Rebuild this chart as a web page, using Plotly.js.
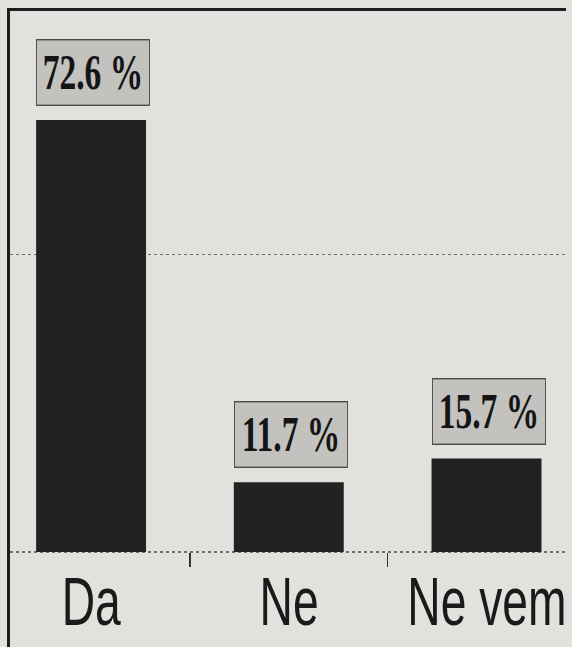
<!DOCTYPE html>
<html>
<head>
<meta charset="utf-8">
<script src="https://cdn.plot.ly/plotly-3.0.1.min.js"></script>
<style>
  html, body { margin: 0; padding: 0; background: #e3e1dd; overflow: hidden; }
  #chart { width: 572px; height: 647px; overflow: hidden; }
  /* the printed lettering (and its boxes) are strongly condensed */
  .annotation-text-g { transform-box: fill-box; transform-origin: 50% 50%; transform: scaleX(0.67); }
</style>
</head>
<body>
<div id="chart"></div>
<script>
// ---- data ----
const categories = ['Da', 'Ne', 'Ne vem'];
const shares = [72.6, 11.7, 15.7];
const valueLabels = ['72.6 %', '11.7 %', '15.7 %'];
const gridValues = [0, 50];

// ---- styles ----
const BG = '#e3e1dd';
const INK = '#222222';
const FRAME = '#1e1e1e';
const SQUEEZE = 0.67;
const X_RANGE = [-0.41, 2.402];

const bars = {
  type: 'bar', x: categories, y: shares,
  marker: { color: INK, line: { width: 0 } }, hoverinfo: 'skip'
};
// empty companion trace so the top frame axis exists
const frameTop = { type: 'scatter', x: [], y: [], xaxis: 'x2', yaxis: 'y', hoverinfo: 'skip', showlegend: false };

const valueAnnotations = categories.map((c, i) => ({
  x: c, y: shares[i], xref: 'x', yref: 'y',
  text: valueLabels[i], showarrow: false,
  xanchor: 'center', yanchor: 'bottom', yshift: 14, xshift: 2,
  width: 112 / SQUEEZE, height: 64, align: 'center', valign: 'middle',
  bgcolor: '#c3c2bf', bordercolor: '#4a4a4a', borderwidth: 1.4, borderpad: 0,
  font: { family: 'Liberation Serif, Times New Roman, serif', size: 50, color: '#151515', weight: 'bold' }
}));

const categoryAnnotations = categories.map((c) => ({
  x: c, y: 0, xref: 'x', yref: 'y', text: c, showarrow: false,
  xanchor: 'center', yanchor: 'top', yshift: -9,
  font: { family: 'Liberation Sans, Arial, sans-serif', size: 69, color: '#1a1a1a' }
}));

const layout = {
  width: 572, height: 647,
  margin: { l: 10, r: 6, t: 11, b: 0, pad: 0 },
  paper_bgcolor: BG, plot_bgcolor: BG, showlegend: false, bargap: 0.444,
  xaxis: {
    type: 'category', range: X_RANGE,
    anchor: 'free', position: 0.1494,
    showgrid: false, zeroline: false, showline: false,
    ticks: 'outside', tickson: 'boundaries', ticklen: 14, tickwidth: 1.5, tickcolor: '#333',
    showticklabels: false, fixedrange: true
  },
  xaxis2: {
    overlaying: 'x', side: 'top', anchor: 'y', range: X_RANGE,
    showline: true, linewidth: 3, linecolor: FRAME,
    showgrid: false, zeroline: false, ticks: '', showticklabels: false, fixedrange: true
  },
  yaxis: {
    range: [-15.97, 90.9], tickvals: gridValues, showticklabels: false, ticks: '',
    showgrid: true, gridcolor: '#6f6f6f', gridwidth: 1.5, griddash: 'dot',
    showline: true, linewidth: 3, linecolor: FRAME, mirror: false,
    zeroline: false, fixedrange: true
  },
  annotations: valueAnnotations.concat(categoryAnnotations)
};

Plotly.newPlot('chart', [bars, frameTop], layout, { staticPlot: true, displayModeBar: false });
</script>
</body>
</html>
